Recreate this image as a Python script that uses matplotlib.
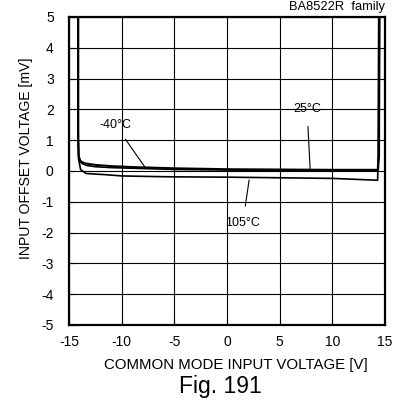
import numpy as np
import matplotlib.pyplot as plt

plt.rcParams['font.family'] = ['Liberation Sans', 'DejaVu Sans']

# common mode input voltage [V] vs input offset voltage [mV]
x_m40 = [-14.15, -14.15, -14.1, -13.9, -13.5, -12.5, -11, -9, -7, -5, 0, 5, 10, 14.3, 14.4, 14.45]
y_m40 = [5, 1.5, 0.5, 0.32, 0.25, 0.2, 0.16, 0.13, 0.11, 0.09, 0.06, 0.05, 0.04, 0.04, 0.5, 5]

x_25 = [-14.15, -14.15, -14.05, -13.8, -13.3, -12.5, -11, -9, -7, -5, 0, 5, 10, 14.35, 14.45, 14.5]
y_25 = [5, 1.2, 0.4, 0.25, 0.18, 0.14, 0.11, 0.09, 0.07, 0.05, 0.03, 0.02, 0.02, 0.02, 0.5, 5]

x_105 = [-14.1, -14.1, -13.9, -13.4, -12.5, -11.5, -10, -7, -5, 0, 5, 10, 14.3, 14.35, 14.4]
y_105 = [5, 0.4, 0.05, -0.08, -0.1, -0.12, -0.16, -0.18, -0.19, -0.2, -0.22, -0.24, -0.3, 0.5, 5]

x_ticks = [-15, -10, -5, 0, 5, 10, 15]
y_ticks = [-5, -4, -3, -2, -1, 0, 1, 2, 3, 4, 5]

fig = plt.figure(figsize=(4.03, 4.01), dpi=100)
ax = fig.add_axes([69 / 403, 1 - 325 / 401, 316 / 403, 308 / 401])

ax.plot(x_m40, y_m40, color='black', lw=1.4)
ax.plot(x_25, y_25, color='black', lw=1.2)
ax.plot(x_105, y_105, color='black', lw=1.2)

ax.set_xlim(-15, 15)
ax.set_ylim(-5, 5)
ax.set_xticks(x_ticks)
ax.set_yticks(y_ticks)
ax.set_xticklabels([str(v) for v in x_ticks])
ax.set_yticklabels([str(v) for v in y_ticks])
ax.grid(True, color='black', lw=0.8)
ax.tick_params(direction='in', length=4, labelsize=10, color='black')
ax.tick_params(axis='x', pad=7)
ax.tick_params(axis='y', pad=11)
for s in ax.spines.values():
    s.set_linewidth(1.6)

ax.set_xlabel('COMMON MODE INPUT VOLTAGE [V]', fontsize=10.8)
ax.set_ylabel('INPUT OFFSET VOLTAGE [mV]', fontsize=10.1)
ax.xaxis.set_label_coords(0.527, -0.107)
ax.yaxis.set_label_coords(-0.114, 0.542)

# labels
ax.annotate('-40°C', xy=(-7.8, 0.13), xytext=(-10.6, 1.5), fontsize=9,
            ha='center', va='center',
            arrowprops=dict(arrowstyle='-', color='black', lw=0.8, shrinkA=5, shrinkB=0))
ax.annotate('25°C', xy=(7.9, 0.03), xytext=(7.6, 2.0), fontsize=9,
            ha='center', va='center',
            arrowprops=dict(arrowstyle='-', color='black', lw=0.8, shrinkA=6, shrinkB=0))
ax.annotate('105°C', xy=(2.1, -0.29), xytext=(1.5, -1.69), fontsize=9,
            ha='center', va='center',
            arrowprops=dict(arrowstyle='-', color='black', lw=0.8, shrinkA=6, shrinkB=0))

fig.text(385 / 403, 1 - 7 / 401, 'BA8522R  family', fontsize=9.3, ha='right', va='center')
fig.text(220 / 403, 1 - 387 / 401, 'Fig. 191', fontsize=16.5, ha='center', va='center')

fig.savefig('out.png', dpi=100)
